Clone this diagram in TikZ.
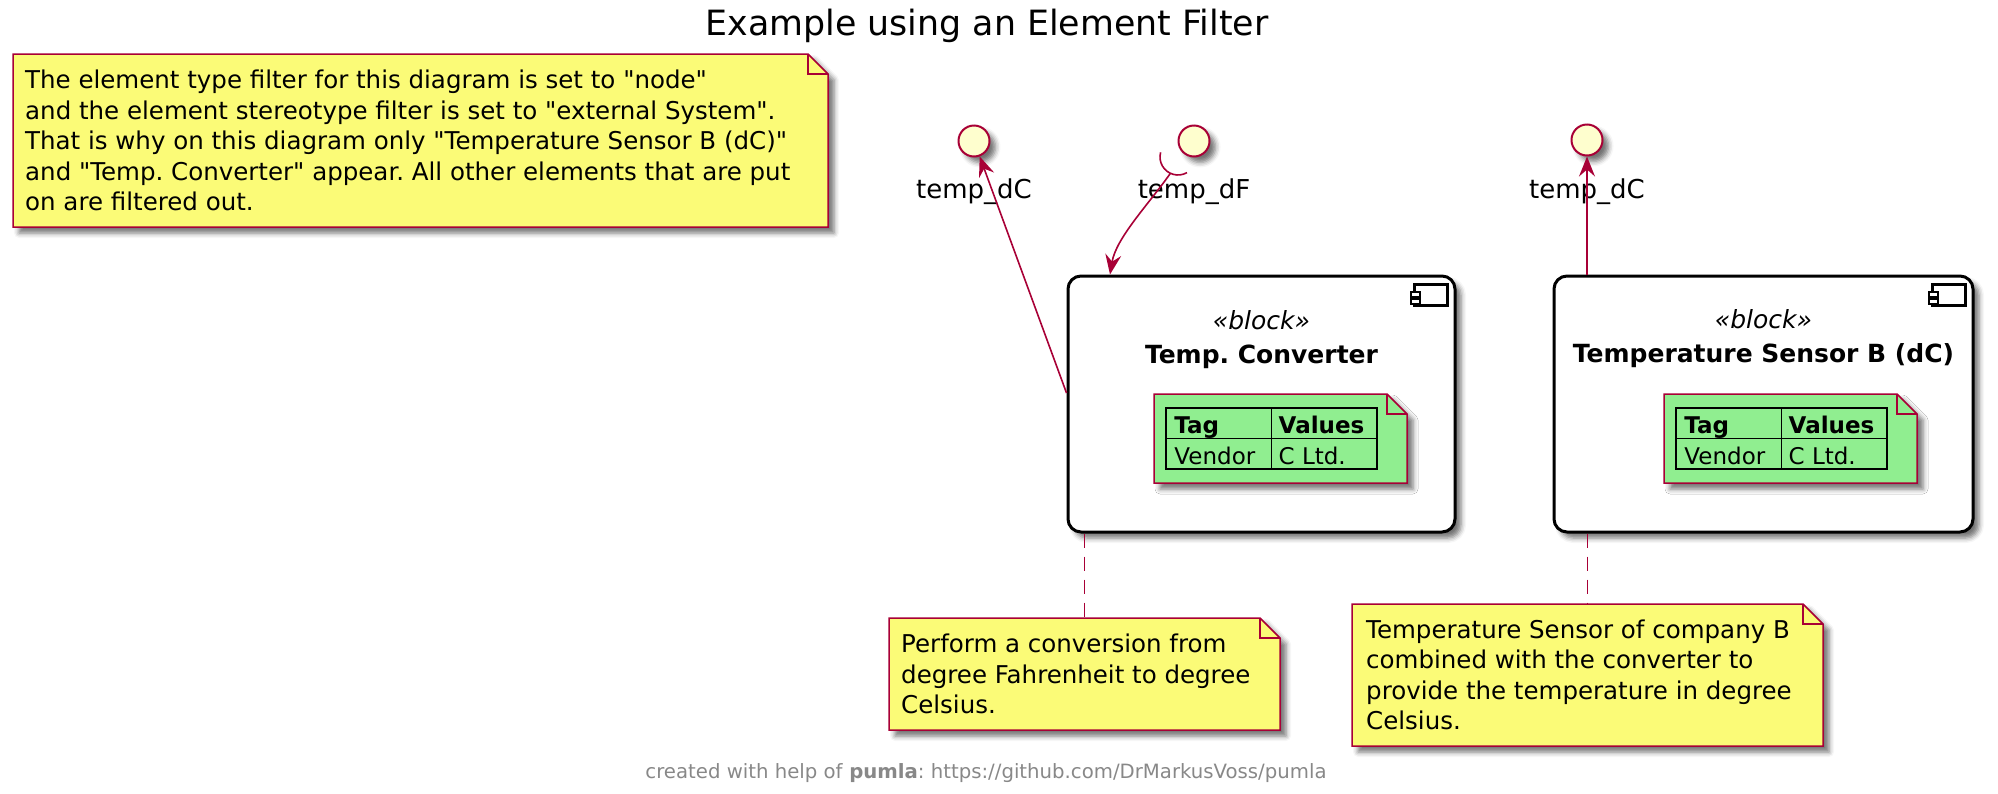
\documentclass[tikz,border=0pt]{standalone}
\usepackage{fontspec}
\setmainfont{DejaVu Sans}[Ligatures=TeXOff]
\usetikzlibrary{arrows.meta,shadows.blur,calc}
\definecolor{plred}{HTML}{A80036}
\definecolor{noteyellow}{HTML}{FBFB77}
\definecolor{ifill}{HTML}{FEFECE}
\definecolor{ngreen}{HTML}{90EE90}
\definecolor{footgray}{HTML}{888888}
\frenchspacing
\newcommand\notefold[3]{%
  \path[notebg, fill=#2] (#1.north west) -- ([xshift=-#3]#1.north east) -- ([yshift=-#3]#1.north east) -- (#1.south east) -- (#1.south west) -- cycle;
  \draw[noteline] ([xshift=-#3]#1.north east) |- ([yshift=-#3]#1.north east);
}
\tikzset{
  myshadow/.style={blur shadow={shadow xshift=6pt, shadow yshift=-6pt, shadow blur radius=5pt, shadow opacity=55}},
  notebg/.style={draw=plred, line width=1.5pt, myshadow},
  noteline/.style={draw=plred, line width=1.5pt},
  frame/.style={inner sep=0pt, outer sep=0pt, draw=none},
  notetext/.style={inner sep=0pt, align=left, font=\fontsize{24.5}{30.5}\selectfont},
  iface/.style={circle, minimum size=31pt, inner sep=0pt, fill=ifill, draw=plred, line width=2pt, myshadow},
  lbl/.style={inner sep=0pt, font=\fontsize{26}{30}\selectfont},
  box/.style={draw=black, line width=3pt, rounded corners=13pt, fill=white, inner sep=0pt, myshadow},
  stereo/.style={inner sep=0pt, font=\fontsize{25}{30}\selectfont\itshape},
  bname/.style={inner sep=0pt, font=\fontsize{25}{30}\selectfont\bfseries},
  tframe/.style={draw=black, line width=1.5pt, inner sep=0pt, minimum width=211pt, minimum height=61pt},
  tline/.style={draw=black, line width=1.5pt},
  cell/.style={inner sep=0pt, font=\fontsize{23}{28}\selectfont},
  cellb/.style={inner sep=0pt, font=\fontsize{23}{28}\selectfont\bfseries},
  icon/.style={draw=black, line width=2.5pt},
  conn/.style={draw=plred, line width=1.6pt},
  arr/.style={-{Stealth[length=20pt,width=16pt,inset=7pt]}},
  footer/.style={inner sep=0pt, text=footgray, font=\fontsize{19.7}{22}\selectfont},
}
\begin{document}
\begin{tikzpicture}[x=1pt,y=-1pt]
\useasboundingbox (0,0) rectangle (1998,793);
% title
\node[inner sep=0pt, anchor=base, font=\fontsize{34.8}{40}\selectfont] (title) at (987,35) {Example using an Element Filter};
% left note
\node[frame, minimum width=815pt, minimum height=173pt] (n0) at (420.5,140.5) {};
\notefold{n0}{noteyellow}{20pt}
\node[notetext, anchor=west] (n0t) at ([xshift=12pt]n0.west) {The element type filter for this diagram is set to "node"\\and the element stereotype filter is set to "external System".\\That is why on this diagram only "Temperature Sensor B (dC)"\\and "Temp. Converter" appear. All other elements that are put\\on are filtered out.};
% interfaces
\node[iface] (c1) at (974,141) {};
\node[iface] (c2) at (1194,141) {};
\node[iface] (c3) at (1587,140) {};
\node[lbl, anchor=base] (l1) at (974,198) {temp\_dC};
\node[lbl, anchor=base] (l2) at (1194,198) {temp\_dF};
\node[lbl, anchor=base] (l3) at (1587,198) {temp\_dC};
% boxes
\node[box, minimum width=387pt, minimum height=256pt] (b1) at (1261.5,404) {};
\node[box, minimum width=419pt, minimum height=256pt] (b2) at (1763.5,404) {};
\foreach \b in {b1,b2}{
  \draw[icon, fill=white] ([shift={(-42pt,-10pt)}]\b.north east) rectangle ([shift={(-9pt,-31pt)}]\b.north east);
  \draw[icon, line width=2pt, fill=white] ([shift={(-46pt,-17pt)}]\b.north east) rectangle ([shift={(-37pt,-22pt)}]\b.north east);
  \draw[icon, line width=2pt, fill=white] ([shift={(-46pt,-24pt)}]\b.north east) rectangle ([shift={(-37pt,-29pt)}]\b.north east);
}
\node[stereo, anchor=base] (s1) at (1261.5,329) {«block»};
\node[bname, anchor=base] (m1) at (1261.5,363) {Temp. Converter};
\node[stereo, anchor=base] (s2) at (1763.5,328) {«block»};
\node[bname, anchor=base] (m2) at (1763.5,362) {Temperature Sensor B (dC)};
% green notes
\node[frame, minimum width=253pt, minimum height=89pt] (g1) at (1280.5,438.5) {};
\notefold{g1}{ngreen}{20pt}
\node[frame, minimum width=253pt, minimum height=89pt] (g2) at (1790.5,438.5) {};
\notefold{g2}{ngreen}{20pt}
\node[tframe] (t1) at (1271.5,438.5) {};
\node[tframe] (t2) at (1781.5,438.5) {};
\foreach \t in {t1,t2}{
  \draw[tline] (\t.north) -- (\t.south);
  \draw[tline] (\t.west) -- (\t.east);
}
\node[cellb, anchor=base west] (t1a) at ([shift={(9pt,5.5pt)}]t1.west) {Tag};
\node[cellb, anchor=base west] (t1b) at ([shift={(7pt,5.5pt)}]t1.center) {Values};
\node[cell, anchor=base west] (t1c) at ([shift={(9pt,-25.5pt)}]t1.west) {Vendor};
\node[cell, anchor=base west] (t1d) at ([shift={(7pt,-25.5pt)}]t1.center) {C Ltd.};
\node[cellb, anchor=base west] (t2a) at ([shift={(9pt,5.5pt)}]t2.west) {Tag};
\node[cellb, anchor=base west] (t2b) at ([shift={(7pt,5.5pt)}]t2.center) {Values};
\node[cell, anchor=base west] (t2c) at ([shift={(9pt,-25.5pt)}]t2.west) {Vendor};
\node[cell, anchor=base west] (t2d) at ([shift={(7pt,-25.5pt)}]t2.center) {C Ltd.};
% bottom notes
\node[frame, minimum width=391pt, minimum height=112pt] (n1) at (1084.5,674) {};
\notefold{n1}{noteyellow}{20pt}
\node[notetext, anchor=west] (n1t) at ([xshift=12pt]n1.west) {Perform a conversion from\\degree Fahrenheit to degree\\Celsius.};
\node[frame, minimum width=471pt, minimum height=142pt] (n2) at (1587.5,675) {};
\notefold{n2}{noteyellow}{20pt}
\node[notetext, anchor=west] (n2t) at ([xshift=14pt]n2.west) {Temperature Sensor of company B\\combined with the converter to\\provide the temperature in degree\\Celsius.};
% connectors
\coordinate (p1) at ([yshift=11pt]b1.west);
\draw[conn, arr] (p1) -- (c1);
\draw[conn, arr] (b2.north -| c3) -- (c3);
\coordinate (sk) at (1178,157);
\draw[conn] ([shift={(165:18pt)}]sk) arc[start angle=165, end angle=300, radius=18pt];
\coordinate (b1in) at ([xshift=-151.5pt]b1.north);
\draw[conn, arr] ([shift={(245:18pt)}]sk) .. controls (1148,205) and (1116,238) .. (b1in);
\draw[conn, dash pattern=on 14pt off 9pt] (n1.north |- b1.south) -- (n1.north);
\draw[conn, dash pattern=on 14pt off 9pt] (n2.north |- b2.south) -- (n2.north);
% footer
\node[footer, anchor=base] (ft) at (986,778) {created with help of \textbf{pumla}: https://github.com/DrMarkusVoss/pumla};
\end{tikzpicture}
\end{document}
